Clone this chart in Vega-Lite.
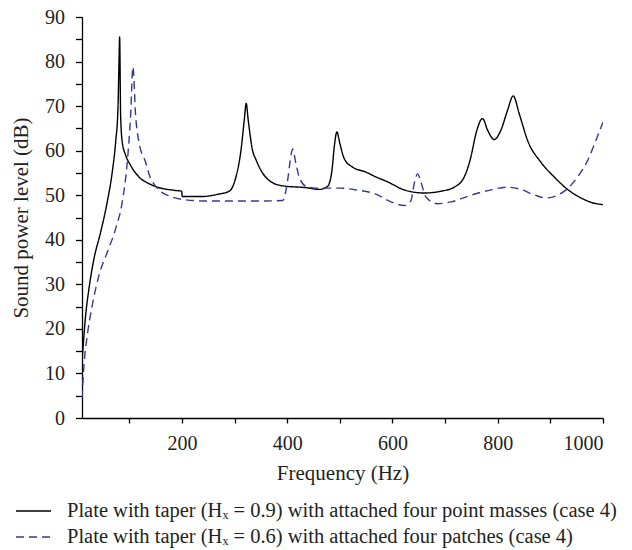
{
  "$schema": "https://vega.github.io/schema/vega-lite/v6.json",
  "width": 521,
  "height": 401,
  "autosize": {"type": "none"},
  "padding": {"left": 82, "top": 17, "right": 29, "bottom": 132},
  "background": "white",
  "config": {
    "view": {"stroke": null},
    "font": "Liberation Serif",
    "axis": {
      "grid": false,
      "domainColor": "#000000",
      "domainWidth": 1.3,
      "tickColor": "#000000",
      "tickWidth": 1.3,
      "labelFont": "Liberation Serif",
      "labelFontSize": 20,
      "labelColor": "#231f20",
      "titleFont": "Liberation Serif",
      "titleFontSize": 21,
      "titleFontWeight": "normal",
      "titleColor": "#231f20"
    },
    "legend": {
      "orient": "none",
      "legendX": -67,
      "legendY": 483,
      "direction": "vertical",
      "symbolType": "stroke",
      "symbolSize": 1225,
      "symbolStrokeWidth": 1.3,
      "labelFont": "Liberation Serif",
      "labelFontSize": 20.5,
      "labelColor": "#231f20",
      "labelLimit": 2000,
      "labelOffset": 15,
      "clipHeight": 22,
      "rowPadding": 4,
      "padding": 0
    }
  },
  "data": {
    "values": [
      {"series": "Plate with taper (Hₓ = 0.9) with attached four point masses (case 4)", "f": 10, "db": 12.5},
      {"series": "Plate with taper (Hₓ = 0.9) with attached four point masses (case 4)", "f": 11.8, "db": 15.5},
      {"series": "Plate with taper (Hₓ = 0.9) with attached four point masses (case 4)", "f": 16.9, "db": 23},
      {"series": "Plate with taper (Hₓ = 0.9) with attached four point masses (case 4)", "f": 23.2, "db": 29},
      {"series": "Plate with taper (Hₓ = 0.9) with attached four point masses (case 4)", "f": 32.7, "db": 35.7},
      {"series": "Plate with taper (Hₓ = 0.9) with attached four point masses (case 4)", "f": 45.4, "db": 41.7},
      {"series": "Plate with taper (Hₓ = 0.9) with attached four point masses (case 4)", "f": 58, "db": 48.5},
      {"series": "Plate with taper (Hₓ = 0.9) with attached four point masses (case 4)", "f": 67.5, "db": 55.2},
      {"series": "Plate with taper (Hₓ = 0.9) with attached four point masses (case 4)", "f": 73.9, "db": 61.9},
      {"series": "Plate with taper (Hₓ = 0.9) with attached four point masses (case 4)", "f": 78.3, "db": 69.4},
      {"series": "Plate with taper (Hₓ = 0.9) with attached four point masses (case 4)", "f": 80.2, "db": 79.2},
      {"series": "Plate with taper (Hₓ = 0.9) with attached four point masses (case 4)", "f": 81.5, "db": 85.5},
      {"series": "Plate with taper (Hₓ = 0.9) with attached four point masses (case 4)", "f": 83.4, "db": 67.9},
      {"series": "Plate with taper (Hₓ = 0.9) with attached four point masses (case 4)", "f": 86.5, "db": 61.9},
      {"series": "Plate with taper (Hₓ = 0.9) with attached four point masses (case 4)", "f": 92.9, "db": 59},
      {"series": "Plate with taper (Hₓ = 0.9) with attached four point masses (case 4)", "f": 102.4, "db": 56.7},
      {"series": "Plate with taper (Hₓ = 0.9) with attached four point masses (case 4)", "f": 118.2, "db": 54.1},
      {"series": "Plate with taper (Hₓ = 0.9) with attached four point masses (case 4)", "f": 137.2, "db": 52.6},
      {"series": "Plate with taper (Hₓ = 0.9) with attached four point masses (case 4)", "f": 153.7, "db": 51.8},
      {"series": "Plate with taper (Hₓ = 0.9) with attached four point masses (case 4)", "f": 185.3, "db": 51.1},
      {"series": "Plate with taper (Hₓ = 0.9) with attached four point masses (case 4)", "f": 199.3, "db": 50.9},
      {"series": "Plate with taper (Hₓ = 0.9) with attached four point masses (case 4)", "f": 200.5, "db": 49.7},
      {"series": "Plate with taper (Hₓ = 0.9) with attached four point masses (case 4)", "f": 236, "db": 49.7},
      {"series": "Plate with taper (Hₓ = 0.9) with attached four point masses (case 4)", "f": 267.7, "db": 50.2},
      {"series": "Plate with taper (Hₓ = 0.9) with attached four point masses (case 4)", "f": 289.8, "db": 50.9},
      {"series": "Plate with taper (Hₓ = 0.9) with attached four point masses (case 4)", "f": 302.5, "db": 54.1},
      {"series": "Plate with taper (Hₓ = 0.9) with attached four point masses (case 4)", "f": 312, "db": 60},
      {"series": "Plate with taper (Hₓ = 0.9) with attached four point masses (case 4)", "f": 318.3, "db": 66.8},
      {"series": "Plate with taper (Hₓ = 0.9) with attached four point masses (case 4)", "f": 322, "db": 70.6},
      {"series": "Plate with taper (Hₓ = 0.9) with attached four point masses (case 4)", "f": 325.9, "db": 66.8},
      {"series": "Plate with taper (Hₓ = 0.9) with attached four point masses (case 4)", "f": 334.2, "db": 60},
      {"series": "Plate with taper (Hₓ = 0.9) with attached four point masses (case 4)", "f": 340.5, "db": 58},
      {"series": "Plate with taper (Hₓ = 0.9) with attached four point masses (case 4)", "f": 350, "db": 55.6},
      {"series": "Plate with taper (Hₓ = 0.9) with attached four point masses (case 4)", "f": 365.8, "db": 53.3},
      {"series": "Plate with taper (Hₓ = 0.9) with attached four point masses (case 4)", "f": 391.2, "db": 52.1},
      {"series": "Plate with taper (Hₓ = 0.9) with attached four point masses (case 4)", "f": 435.5, "db": 51.7},
      {"series": "Plate with taper (Hₓ = 0.9) with attached four point masses (case 4)", "f": 460.8, "db": 51.3},
      {"series": "Plate with taper (Hₓ = 0.9) with attached four point masses (case 4)", "f": 476.7, "db": 52},
      {"series": "Plate with taper (Hₓ = 0.9) with attached four point masses (case 4)", "f": 485, "db": 55.6},
      {"series": "Plate with taper (Hₓ = 0.9) with attached four point masses (case 4)", "f": 489.3, "db": 60.8},
      {"series": "Plate with taper (Hₓ = 0.9) with attached four point masses (case 4)", "f": 494.4, "db": 64.2},
      {"series": "Plate with taper (Hₓ = 0.9) with attached four point masses (case 4)", "f": 500, "db": 61.6},
      {"series": "Plate with taper (Hₓ = 0.9) with attached four point masses (case 4)", "f": 508.3, "db": 58.2},
      {"series": "Plate with taper (Hₓ = 0.9) with attached four point masses (case 4)", "f": 524.2, "db": 56.3},
      {"series": "Plate with taper (Hₓ = 0.9) with attached four point masses (case 4)", "f": 549.5, "db": 55.2},
      {"series": "Plate with taper (Hₓ = 0.9) with attached four point masses (case 4)", "f": 568.5, "db": 54.1},
      {"series": "Plate with taper (Hₓ = 0.9) with attached four point masses (case 4)", "f": 590.7, "db": 53},
      {"series": "Plate with taper (Hₓ = 0.9) with attached four point masses (case 4)", "f": 622.3, "db": 51.2},
      {"series": "Plate with taper (Hₓ = 0.9) with attached four point masses (case 4)", "f": 660.3, "db": 50.5},
      {"series": "Plate with taper (Hₓ = 0.9) with attached four point masses (case 4)", "f": 692, "db": 50.9},
      {"series": "Plate with taper (Hₓ = 0.9) with attached four point masses (case 4)", "f": 717.3, "db": 51.8},
      {"series": "Plate with taper (Hₓ = 0.9) with attached four point masses (case 4)", "f": 736.3, "db": 54.1},
      {"series": "Plate with taper (Hₓ = 0.9) with attached four point masses (case 4)", "f": 749, "db": 58.6},
      {"series": "Plate with taper (Hₓ = 0.9) with attached four point masses (case 4)", "f": 758.5, "db": 63.8},
      {"series": "Plate with taper (Hₓ = 0.9) with attached four point masses (case 4)", "f": 771.2, "db": 67.2},
      {"series": "Plate with taper (Hₓ = 0.9) with attached four point masses (case 4)", "f": 780.7, "db": 64.6},
      {"series": "Plate with taper (Hₓ = 0.9) with attached four point masses (case 4)", "f": 793.3, "db": 62.5},
      {"series": "Plate with taper (Hₓ = 0.9) with attached four point masses (case 4)", "f": 806, "db": 64.6},
      {"series": "Plate with taper (Hₓ = 0.9) with attached four point masses (case 4)", "f": 818.7, "db": 69.1},
      {"series": "Plate with taper (Hₓ = 0.9) with attached four point masses (case 4)", "f": 829.4, "db": 72.3},
      {"series": "Plate with taper (Hₓ = 0.9) with attached four point masses (case 4)", "f": 840.8, "db": 68.3},
      {"series": "Plate with taper (Hₓ = 0.9) with attached four point masses (case 4)", "f": 856.7, "db": 62.3},
      {"series": "Plate with taper (Hₓ = 0.9) with attached four point masses (case 4)", "f": 882, "db": 57.4},
      {"series": "Plate with taper (Hₓ = 0.9) with attached four point masses (case 4)", "f": 907.3, "db": 54.1},
      {"series": "Plate with taper (Hₓ = 0.9) with attached four point masses (case 4)", "f": 932.7, "db": 51.3},
      {"series": "Plate with taper (Hₓ = 0.9) with attached four point masses (case 4)", "f": 958, "db": 49.4},
      {"series": "Plate with taper (Hₓ = 0.9) with attached four point masses (case 4)", "f": 983.3, "db": 48.2},
      {"series": "Plate with taper (Hₓ = 0.9) with attached four point masses (case 4)", "f": 1000, "db": 47.9},

      {"series": "Plate with taper (Hₓ = 0.6) with attached four patches (case 4)", "f": 10, "db": 4.5},
      {"series": "Plate with taper (Hₓ = 0.6) with attached four patches (case 4)", "f": 13.7, "db": 11.8},
      {"series": "Plate with taper (Hₓ = 0.6) with attached four patches (case 4)", "f": 20, "db": 18.5},
      {"series": "Plate with taper (Hₓ = 0.6) with attached four patches (case 4)", "f": 29.5, "db": 25.3},
      {"series": "Plate with taper (Hₓ = 0.6) with attached four patches (case 4)", "f": 42.2, "db": 32},
      {"series": "Plate with taper (Hₓ = 0.6) with attached four patches (case 4)", "f": 58, "db": 37.2},
      {"series": "Plate with taper (Hₓ = 0.6) with attached four patches (case 4)", "f": 73.9, "db": 42.5},
      {"series": "Plate with taper (Hₓ = 0.6) with attached four patches (case 4)", "f": 86.5, "db": 48.5},
      {"series": "Plate with taper (Hₓ = 0.6) with attached four patches (case 4)", "f": 96, "db": 57.4},
      {"series": "Plate with taper (Hₓ = 0.6) with attached four patches (case 4)", "f": 102.4, "db": 67.9},
      {"series": "Plate with taper (Hₓ = 0.6) with attached four patches (case 4)", "f": 106.8, "db": 78.8},
      {"series": "Plate with taper (Hₓ = 0.6) with attached four patches (case 4)", "f": 111.9, "db": 67.9},
      {"series": "Plate with taper (Hₓ = 0.6) with attached four patches (case 4)", "f": 118.2, "db": 61.9},
      {"series": "Plate with taper (Hₓ = 0.6) with attached four patches (case 4)", "f": 130.9, "db": 57.4},
      {"series": "Plate with taper (Hₓ = 0.6) with attached four patches (case 4)", "f": 137.2, "db": 54.8},
      {"series": "Plate with taper (Hₓ = 0.6) with attached four patches (case 4)", "f": 153.7, "db": 51.5},
      {"series": "Plate with taper (Hₓ = 0.6) with attached four patches (case 4)", "f": 179, "db": 49.7},
      {"series": "Plate with taper (Hₓ = 0.6) with attached four patches (case 4)", "f": 204.3, "db": 49},
      {"series": "Plate with taper (Hₓ = 0.6) with attached four patches (case 4)", "f": 248.7, "db": 48.7},
      {"series": "Plate with taper (Hₓ = 0.6) with attached four patches (case 4)", "f": 299.3, "db": 48.7},
      {"series": "Plate with taper (Hₓ = 0.6) with attached four patches (case 4)", "f": 346.8, "db": 48.7},
      {"series": "Plate with taper (Hₓ = 0.6) with attached four patches (case 4)", "f": 391.2, "db": 48.8},
      {"series": "Plate with taper (Hₓ = 0.6) with attached four patches (case 4)", "f": 400.7, "db": 53.3},
      {"series": "Plate with taper (Hₓ = 0.6) with attached four patches (case 4)", "f": 405.7, "db": 57.8},
      {"series": "Plate with taper (Hₓ = 0.6) with attached four patches (case 4)", "f": 410.2, "db": 60.4},
      {"series": "Plate with taper (Hₓ = 0.6) with attached four patches (case 4)", "f": 416.5, "db": 57.1},
      {"series": "Plate with taper (Hₓ = 0.6) with attached four patches (case 4)", "f": 422.8, "db": 54.1},
      {"series": "Plate with taper (Hₓ = 0.6) with attached four patches (case 4)", "f": 435.5, "db": 52},
      {"series": "Plate with taper (Hₓ = 0.6) with attached four patches (case 4)", "f": 454.5, "db": 51.6},
      {"series": "Plate with taper (Hₓ = 0.6) with attached four patches (case 4)", "f": 498.8, "db": 51.6},
      {"series": "Plate with taper (Hₓ = 0.6) with attached four patches (case 4)", "f": 530.5, "db": 51.2},
      {"series": "Plate with taper (Hₓ = 0.6) with attached four patches (case 4)", "f": 567, "db": 50.3},
      {"series": "Plate with taper (Hₓ = 0.6) with attached four patches (case 4)", "f": 597, "db": 48.5},
      {"series": "Plate with taper (Hₓ = 0.6) with attached four patches (case 4)", "f": 622.3, "db": 47.7},
      {"series": "Plate with taper (Hₓ = 0.6) with attached four patches (case 4)", "f": 635, "db": 48.8},
      {"series": "Plate with taper (Hₓ = 0.6) with attached four patches (case 4)", "f": 641.3, "db": 52.6},
      {"series": "Plate with taper (Hₓ = 0.6) with attached four patches (case 4)", "f": 647.7, "db": 54.8},
      {"series": "Plate with taper (Hₓ = 0.6) with attached four patches (case 4)", "f": 654, "db": 53},
      {"series": "Plate with taper (Hₓ = 0.6) with attached four patches (case 4)", "f": 663.5, "db": 49.6},
      {"series": "Plate with taper (Hₓ = 0.6) with attached four patches (case 4)", "f": 685.7, "db": 48.1},
      {"series": "Plate with taper (Hₓ = 0.6) with attached four patches (case 4)", "f": 711, "db": 48.5},
      {"series": "Plate with taper (Hₓ = 0.6) with attached four patches (case 4)", "f": 749, "db": 50},
      {"series": "Plate with taper (Hₓ = 0.6) with attached four patches (case 4)", "f": 787, "db": 51.2},
      {"series": "Plate with taper (Hₓ = 0.6) with attached four patches (case 4)", "f": 818.7, "db": 51.8},
      {"series": "Plate with taper (Hₓ = 0.6) with attached four patches (case 4)", "f": 844, "db": 51.3},
      {"series": "Plate with taper (Hₓ = 0.6) with attached four patches (case 4)", "f": 869.3, "db": 50.1},
      {"series": "Plate with taper (Hₓ = 0.6) with attached four patches (case 4)", "f": 891.5, "db": 49.4},
      {"series": "Plate with taper (Hₓ = 0.6) with attached four patches (case 4)", "f": 913.7, "db": 50},
      {"series": "Plate with taper (Hₓ = 0.6) with attached four patches (case 4)", "f": 932.7, "db": 51.5},
      {"series": "Plate with taper (Hₓ = 0.6) with attached four patches (case 4)", "f": 951.7, "db": 54.1},
      {"series": "Plate with taper (Hₓ = 0.6) with attached four patches (case 4)", "f": 970.8, "db": 57.8},
      {"series": "Plate with taper (Hₓ = 0.6) with attached four patches (case 4)", "f": 986.5, "db": 62.3},
      {"series": "Plate with taper (Hₓ = 0.6) with attached four patches (case 4)", "f": 1000, "db": 66.4}
    ]
  },
  "mark": {"type": "line", "strokeWidth": 1.4, "clip": true, "interpolate": "monotone"},
  "encoding": {
    "x": {
      "field": "f",
      "type": "quantitative",
      "scale": {"domain": [10, 1000], "nice": false, "zero": false},
      "axis": {
        "title": "Frequency (Hz)",
        "values": [100, 200, 300, 400, 500, 600, 700, 800, 900, 1000],
        "format": "d",
        "labelExpr": "datum.value % 200 === 0 ? datum.label : ''",
        "tickSize": 5,
        "labelPadding": 10,
        "titlePadding": 9
      }
    },
    "y": {
      "field": "db",
      "type": "quantitative",
      "scale": {"domain": [0, 90], "nice": false},
      "axis": {
        "title": "Sound power level (dB)",
        "values": [0, 5, 10, 15, 20, 25, 30, 35, 40, 45, 50, 55, 60, 65, 70, 75, 80, 85, 90],
        "labelExpr": "datum.value % 10 === 0 ? datum.label : ''",
        "tickSize": 6.5,
        "labelPadding": 11,
        "titlePadding": 13
      }
    },
    "color": {
      "field": "series",
      "type": "nominal",
      "scale": {
        "domain": ["Plate with taper (Hₓ = 0.9) with attached four point masses (case 4)", "Plate with taper (Hₓ = 0.6) with attached four patches (case 4)"],
        "range": ["#000000", "#343a94"]
      },
      "legend": {"title": null}
    },
    "strokeDash": {
      "field": "series",
      "type": "nominal",
      "scale": {
        "domain": ["Plate with taper (Hₓ = 0.9) with attached four point masses (case 4)", "Plate with taper (Hₓ = 0.6) with attached four patches (case 4)"],
        "range": [[1, 0], [8, 5]]
      },
      "legend": {"title": null}
    }
  }
}
